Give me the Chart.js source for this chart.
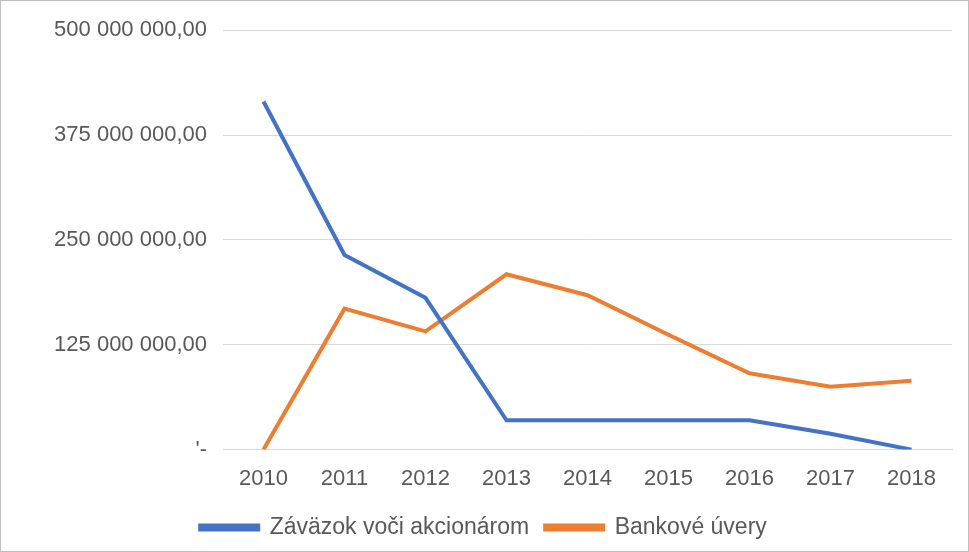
<!DOCTYPE html>
<html>
<head>
<meta charset="utf-8">
<script src="https://cdn.jsdelivr.net/npm/chart.js@4"></script>
<style>
  html, body { margin: 0; padding: 0; background: #fff; }
  #wrap { width: 967px; height: 550px; border: 1px solid #bfbfbf; }
</style>
</head>
<body>
<div id="wrap"><canvas id="chart" width="967" height="550"></canvas></div>
<script>
const years = ['2010', '2011', '2012', '2013', '2014', '2015', '2016', '2017', '2018'];
const zavazky = [415000000, 232000000, 181000000, 35000000, 35000000, 35000000, 35000000, 19000000, 0];
const uvery = [0, 168000000, 141000000, 209000000, 184000000, 137000000, 91000000, 75000000, 82000000];
const yTicks = [0, 125000000, 250000000, 375000000, 500000000];

function fmt(v) {
  if (v === 0) return "'-";
  return v.toString().replace(/\B(?=(\d{3})+(?!\d))/g, ' ') + ',00';
}

new Chart(document.getElementById('chart'), {
  type: 'line',
  data: {
    labels: years,
    datasets: [
      { label: 'Záväzok voči akcionárom', data: zavazky, borderColor: '#4472c4', backgroundColor: '#4472c4', borderWidth: 4, pointRadius: 0, tension: 0 },
      { label: 'Bankové úvery', data: uvery, borderColor: '#ed7d31', backgroundColor: '#ed7d31', borderWidth: 4, pointRadius: 0, tension: 0 }
    ]
  },
  options: {
    responsive: false,
    animation: false,
    layout: { padding: { top: 20, right: 16, left: 14, bottom: 2 } },
    plugins: {
      legend: {
        position: 'bottom',
        labels: {
          color: '#595959',
          font: { family: 'Liberation Sans', size: 23 },
          boxWidth: 58, boxHeight: 4, padding: 16
        }
      }
    },
    scales: {
      x: {
        offset: true,
        grid: { display: false },
        border: { color: '#d9d9d9' },
        ticks: { color: '#595959', font: { family: 'Liberation Sans', size: 22 }, padding: 8 }
      },
      y: {
        min: 0, max: 500000000,
        afterBuildTicks: axis => { axis.ticks = yTicks.map(v => ({ value: v })); },
        afterFit: axis => { axis.width = 208; },
        grid: { color: '#d9d9d9', drawTicks: false },
        border: { display: false },
        ticks: { color: '#595959', font: { family: 'Liberation Sans', size: 22 }, padding: 16, callback: v => fmt(v) }
      }
    }
  }
});
</script>
</body>
</html>
